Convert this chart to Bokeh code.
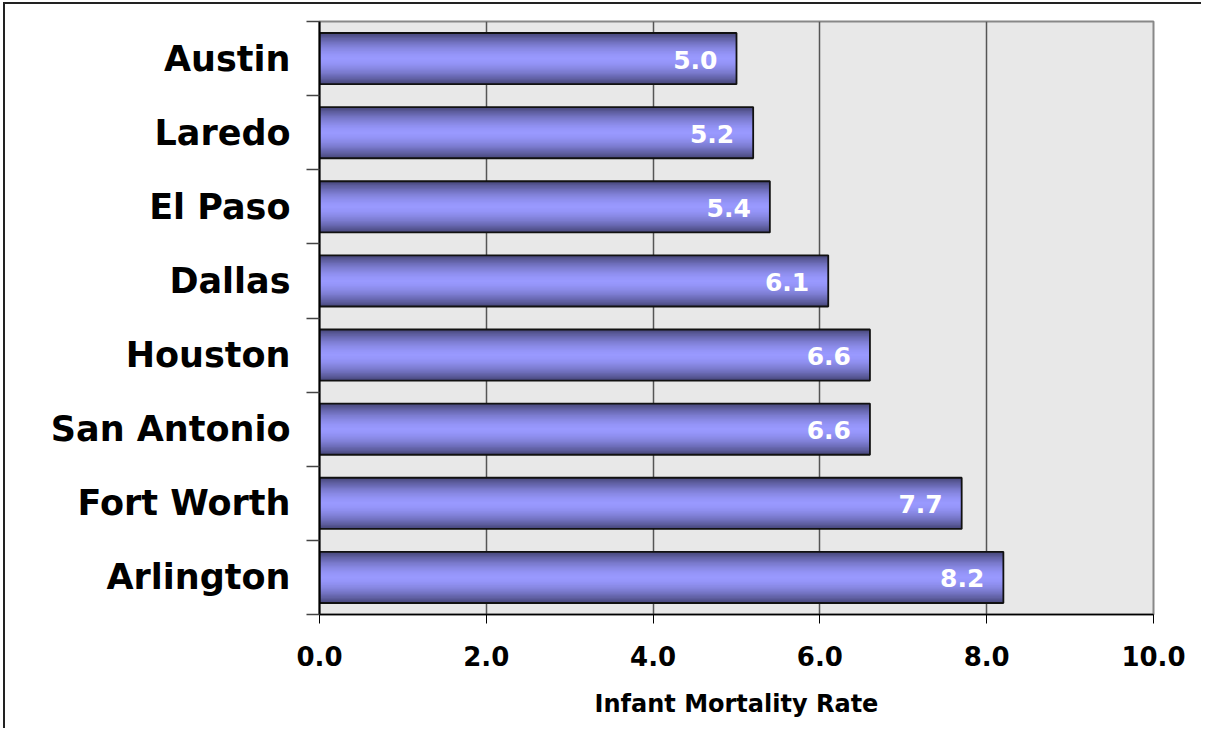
from bokeh.plotting import figure
from bokeh.models import FixedTicker, NumeralTickFormatter, ColumnDataSource, Range1d
from bokeh.core.properties import value
from bokeh.embed import file_html
from bokeh.resources import INLINE

# ---- data ----
cities = ["Austin", "Laredo", "El Paso", "Dallas", "Houston", "San Antonio", "Fort Worth", "Arlington"]
rates = [5.0, 5.2, 5.4, 6.1, 6.6, 6.6, 7.7, 8.2]
x_ticks = [0, 2, 4, 6, 8, 10]
x_title = "Infant Mortality Rate"

FONT = "DejaVu Sans"
n = len(cities)
ys = [i + 0.5 for i in range(n)]
src = ColumnDataSource(dict(y=ys, rate=rates, label=[f"{r:.1f}" for r in rates]))

W, H = 1198, 726
p = figure(width=W, height=H, output_backend="svg", toolbar_location=None,
           x_range=Range1d(0, 10), y_range=Range1d(n, 0),
           min_border_left=314, min_border_right=50, min_border_top=17, min_border_bottom=116)
p.styles = {"border-top": "2px solid #222", "border-left": "2px solid #222",
            "margin-left": "3px", "margin-top": "2px"}

p.background_fill_color = "#e8e8e8"
p.border_fill_color = "white"
p.outline_line_color = "#888888"
p.outline_line_width = 2

# grid
p.ygrid.grid_line_color = None
p.xgrid.ticker = FixedTicker(ticks=x_ticks)
p.xgrid.grid_line_color = "#555555"
p.xgrid.grid_line_width = 1.5

# gradient bars via nested layers
BAR_H = 0.69
dark = (0x48, 0x48, 0x7c)
light = (0x99, 0x99, 0xff)
N = 20
for k in range(N):
    frac = 1 - k / N
    f = frac ** 1.7
    c = tuple(int(round(light[j] + (dark[j] - light[j]) * f)) for j in range(3))
    p.hbar(y="y", right="rate", left=0, height=BAR_H * frac, source=src,
           fill_color="#%02x%02x%02x" % c, line_color=None)
p.hbar(y="y", right="rate", left=0, height=BAR_H, source=src,
       fill_alpha=0, line_color="#111111", line_width=1.8)

p.text(x="rate", y="y", text="label", source=src, x_offset=-19, y_offset=1,
       text_align="right", text_baseline="middle", text_color="white",
       text_font=value(FONT), text_font_style="bold", text_font_size="25px")

# x axis
xa = p.xaxis[0]
xa.ticker = FixedTicker(ticks=x_ticks)
xa.formatter = NumeralTickFormatter(format="0.0")
xa.axis_line_color = "black"
xa.axis_line_width = 1.5
xa.major_tick_out = 9
xa.major_tick_in = 0
xa.major_tick_line_color = "black"
xa.minor_tick_line_color = None
xa.major_label_text_font = FONT
xa.major_label_text_font_style = "bold"
xa.major_label_text_font_size = "26px"
xa.major_label_text_color = "black"
xa.major_label_standoff = 22
xa.axis_label = x_title
xa.axis_label_text_font = FONT
xa.axis_label_text_font_style = "bold"
xa.axis_label_text_font_size = "24px"
xa.axis_label_text_color = "black"
xa.axis_label_standoff = 21

# y axis: labels at centers, ticks at category boundaries
ya = p.yaxis[0]
ya.ticker = FixedTicker(ticks=ys, minor_ticks=list(range(n + 1)))
ya.major_label_overrides = {y: c for y, c in zip(ys, cities)}
ya.axis_line_color = "black"
ya.axis_line_width = 2
ya.major_tick_out = 0
ya.major_tick_in = 0
ya.minor_tick_out = 13
ya.minor_tick_in = 0
ya.minor_tick_line_color = "#444444"
ya.minor_tick_line_width = 1.5
ya.major_label_text_font = FONT
ya.major_label_text_font_style = "bold"
ya.major_label_text_font_size = "35px"
ya.major_label_text_color = "black"
ya.major_label_standoff = 16

open("out.html", "w").write(file_html(p, INLINE))
